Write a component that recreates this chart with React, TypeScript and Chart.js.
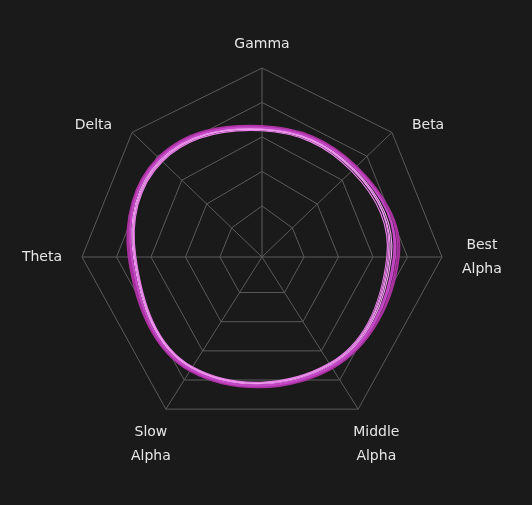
import { useEffect, useRef } from 'react';
import { Chart, registerables, RadialLinearScale } from 'chart.js';

Chart.register(...registerables);

// ---- data ----
const AXIS_LABELS: string[][] = [
  ['Gamma'],
  ['Beta'],
  ['Best', 'Alpha'],
  ['Middle', 'Alpha'],
  ['Slow', 'Alpha'],
  ['Theta'],
  ['Delta'],
];
// axis directions, degrees clockwise from the top
const AXIS_ANGLES = [0, 46.2, 90, 147.7, 212.3, 270, 313.8];

const SCALE_MIN = -0.22;
const SCALE_MAX = 5;
const RING_VALUES = [1, 2, 3, 4, 5];

// order: Gamma, Beta, Best Alpha, Middle Alpha, Slow Alpha, Theta, Delta
const SERIES_1 = [3.27, 3.52, 3.64, 3.55, 3.65, 3.55, 3.9];
const SERIES_2 = [3.21, 3.43, 3.48, 3.47, 3.58, 3.48, 3.83];
const SERIES_3 = [3.32, 3.58, 3.7, 3.6, 3.69, 3.61, 3.95];
const SERIES_4 = [3.18, 3.38, 3.4, 3.43, 3.55, 3.44, 3.78];
const SERIES_5 = [3.3, 3.55, 3.6, 3.53, 3.63, 3.58, 3.92];
const SERIES_6 = [3.24, 3.47, 3.53, 3.5, 3.6, 3.51, 3.86];
const SERIES_7 = [3.26, 3.54, 3.75, 3.57, 3.67, 3.65, 3.88];
const SERIES_8 = [3.22, 3.45, 3.44, 3.45, 3.57, 3.46, 3.81];
const SERIES = [SERIES_1, SERIES_2, SERIES_3, SERIES_4, SERIES_5, SERIES_6, SERIES_7, SERIES_8];

// ---- style ----
const BG = '#1a1a1a';
const GRID = '#5b5b5b';
const LABEL_COLOR = '#e6e6e6';
const LABEL_FONT = '14px "DejaVu Sans", sans-serif';
const LINE_HEIGHT = 24;
const TOP_AXIS_EXTENSION = 9;
const LINE_COLORS = ['#c447c6', '#f29bf2', '#a8329f', '#e57ee6'];
const LINE_WIDTHS = [1.8, 1.2, 1.8, 1.2];

class SkewedRadialScale extends RadialLinearScale {
  static id = 'skewedRadial';
  getIndexAngle(index: number) {
    return (AXIS_ANGLES[index] * Math.PI) / 180;
  }
  getPointPosition(index: number, distance: number, additionalAngle = 0) {
    const extra = index === 0 && distance > 0 ? TOP_AXIS_EXTENSION : 0;
    return super.getPointPosition(index, distance + extra, additionalAngle);
  }
}
Chart.register(SkewedRadialScale);

const axisLabelPlugin = {
  id: 'axisLabels',
  afterDraw(chart: any) {
    const scale = chart.scales.r;
    const ctx = chart.ctx as CanvasRenderingContext2D;
    ctx.save();
    ctx.font = LABEL_FONT;
    ctx.fillStyle = LABEL_COLOR;
    ctx.textAlign = 'center';
    ctx.textBaseline = 'middle';
    AXIS_LABELS.forEach((lines, i) => {
      const outer = scale.getPointPosition(i, scale.drawingArea);
      const ux = Math.cos(outer.angle);
      const uy = Math.sin(outer.angle);
      const w = Math.max(...lines.map((l) => ctx.measureText(l).width));
      const h = lines.length * LINE_HEIGHT;
      let cx: number;
      let cy: number;
      if (Math.abs(ux) < 0.1) cx = outer.x;
      else if (Math.abs(ux) >= 0.6) cx = outer.x + Math.sign(ux) * (20 + w / 2);
      else cx = outer.x + Math.sign(ux) * (w / 2 - 5);
      if (uy < -0.9) cy = outer.y - 12 - h / 2;
      else if (uy > 0.8) cy = outer.y + 11 + h / 2;
      else cy = outer.y + uy * 10;
      lines.forEach((line, k) => {
        ctx.fillText(line, cx, cy - h / 2 + LINE_HEIGHT * (k + 0.5));
      });
    });
    ctx.restore();
  },
};

export default function App() {
  const ref = useRef<HTMLCanvasElement | null>(null);
  useEffect(() => {
    if (!ref.current) return;
    const chart = new Chart(ref.current, {
      type: 'radar',
      data: {
        labels: AXIS_LABELS,
        datasets: SERIES.map((data, i) => ({
          label: `Series ${i + 1}`,
          data,
          fill: false,
          backgroundColor: 'transparent',
          borderColor: LINE_COLORS[i % LINE_COLORS.length],
          borderWidth: LINE_WIDTHS[i % LINE_WIDTHS.length],
          tension: 0.4,
          pointRadius: 0,
          pointHoverRadius: 0,
          pointHitRadius: 0,
        })),
      },
      plugins: [axisLabelPlugin],
      options: {
        responsive: false,
        animation: false,
        layout: { padding: { left: 82, right: 89, top: 77, bottom: 67 } },
        plugins: { legend: { display: false }, tooltip: { enabled: false } },
        scales: {
          r: {
            type: 'skewedRadial',
            min: SCALE_MIN,
            max: SCALE_MAX,
            afterBuildTicks: (axis: any) => {
              axis.ticks = [SCALE_MIN, ...RING_VALUES].map((value) => ({ value }));
            },
            ticks: { display: false },
            grid: { color: GRID, lineWidth: 1 },
            angleLines: { color: GRID, lineWidth: 1 },
            pointLabels: { display: false },
          },
        },
      } as any,
    });
    return () => chart.destroy();
  }, []);
  return (
    <div style={{ position: 'fixed', left: 0, top: 0, width: 532, height: 505, background: BG }}>
      <canvas ref={ref} width={532} height={505} style={{ display: 'block' }} />
    </div>
  );
}
